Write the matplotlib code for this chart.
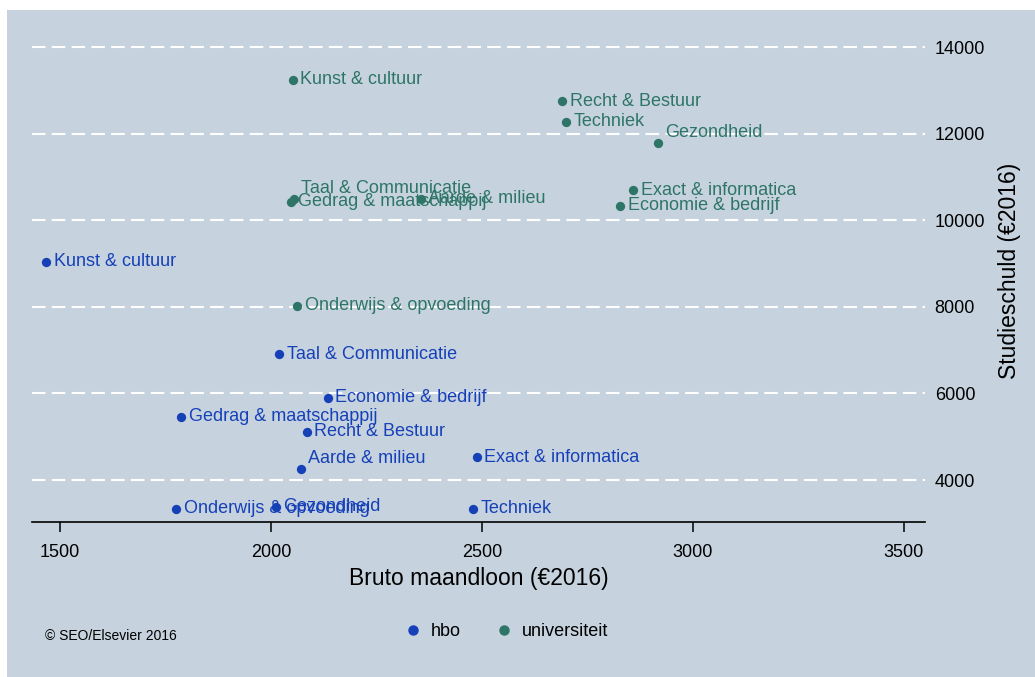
import matplotlib
matplotlib.use("Agg")
import matplotlib.pyplot as plt
from matplotlib.patches import Rectangle
from matplotlib.lines import Line2D

plt.rcParams['font.family'] = ['Liberation Sans', 'DejaVu Sans']

# ---- data ----
hbo_labels = ["Kunst & cultuur", "Taal & Communicatie", "Economie & bedrijf",
              "Gedrag & maatschappij", "Recht & Bestuur", "Aarde & milieu",
              "Exact & informatica", "Onderwijs & opvoeding", "Gezondheid", "Techniek"]
hbo_loon = [1467, 2019, 2135, 1787, 2085, 2071, 2488, 1775, 2012, 2479]
hbo_schuld = [9050, 6910, 5900, 5460, 5110, 4250, 4530, 3330, 3380, 3330]

uni_labels = ["Kunst & cultuur", "Recht & Bestuur", "Techniek", "Gezondheid",
              "Taal & Communicatie", "Gedrag & maatschappij", "Aarde & milieu",
              "Exact & informatica", "Economie & bedrijf", "Onderwijs & opvoeding"]
uni_loon = [2052, 2690, 2699, 2917, 2054, 2047, 2355, 2858, 2827, 2062]
uni_schuld = [13250, 12760, 12280, 11790, 10500, 10430, 10500, 10700, 10340, 8030]

# labels placed above-right instead of right
raised = {("hbo", "Aarde & milieu"), ("uni", "Gezondheid"),
          ("uni", "Taal & Communicatie")}

xticks = [1500, 2000, 2500, 3000, 3500]
yticks = [4000, 6000, 8000, 10000, 12000, 14000]

c_hbo = "#1640b8"
c_uni = "#2e7567"
bg = "#c6d3de"

W, H = 1035, 677
fig = plt.figure(figsize=(W / 100, H / 100), dpi=100)
fig.patch.set_facecolor("white")
fig.patches.append(Rectangle((7 / W, 0), 1 - 7 / W, (H - 10) / H,
                             transform=fig.transFigure, facecolor=bg,
                             edgecolor="none", zorder=-10))

left, right, bottom, top = 32, 925, 522, 20
ax = fig.add_axes([left / W, (H - bottom) / H, (right - left) / W, (bottom - top) / H])
ax.set_zorder(1)
ax.set_facecolor("none")
ax.set_xlim(1434, 3550)
ax.set_ylim(3029, 14635)

for s in ["top", "left", "right"]:
    ax.spines[s].set_visible(False)
ax.spines["bottom"].set_color("black")
ax.spines["bottom"].set_linewidth(1.2)

ax.set_xticks(xticks)
ax.set_yticks(yticks)
ax.yaxis.tick_right()
ax.yaxis.set_label_position("right")
ax.tick_params(axis="x", direction="out", length=7, width=1.1, labelsize=13, pad=9)
ax.tick_params(axis="y", length=0, labelsize=13, pad=7)
ax.grid(axis="y", color="white", linestyle=(0, (6.5, 3)), linewidth=1.5)
ax.set_axisbelow(True)

ax.set_xlabel("Bruto maandloon (€2016)", fontsize=16.5, labelpad=4)
ax.set_ylabel("Studieschuld (€2016)", fontsize=16.5, labelpad=9)

ax.scatter(hbo_loon, hbo_schuld, s=45, color=c_hbo, zorder=3, linewidths=0)
ax.scatter(uni_loon, uni_schuld, s=45, color=c_uni, zorder=3, linewidths=0)

for grp, labs, xs, ys, col in [("hbo", hbo_labels, hbo_loon, hbo_schuld, c_hbo),
                                ("uni", uni_labels, uni_loon, uni_schuld, c_uni)]:
    for lab, x, y in zip(labs, xs, ys):
        off = (5.5, 7.5) if (grp, lab) in raised else (5.5, 0)
        ax.annotate(lab, (x, y), xytext=off, textcoords="offset points",
                    ha="left", va="center", fontsize=13, color=col, zorder=4)

handles = [Line2D([], [], marker="o", linestyle="none", color=c_hbo, markersize=6.5, label="hbo"),
           Line2D([], [], marker="o", linestyle="none", color=c_uni, markersize=6.5, label="universiteit")]
fig.legend(handles=handles, loc="center", bbox_to_anchor=(506 / W, 1 - 632 / H),
           ncol=2, frameon=False, fontsize=13, handlelength=1.0, handletextpad=0.5,
           columnspacing=1.9, borderpad=0, borderaxespad=0)

fig.text(45 / W, 1 - 636 / H, "© SEO/Elsevier 2016", fontsize=10, ha="left", va="center")

fig.savefig("out.png", dpi=100, facecolor=fig.get_facecolor())
